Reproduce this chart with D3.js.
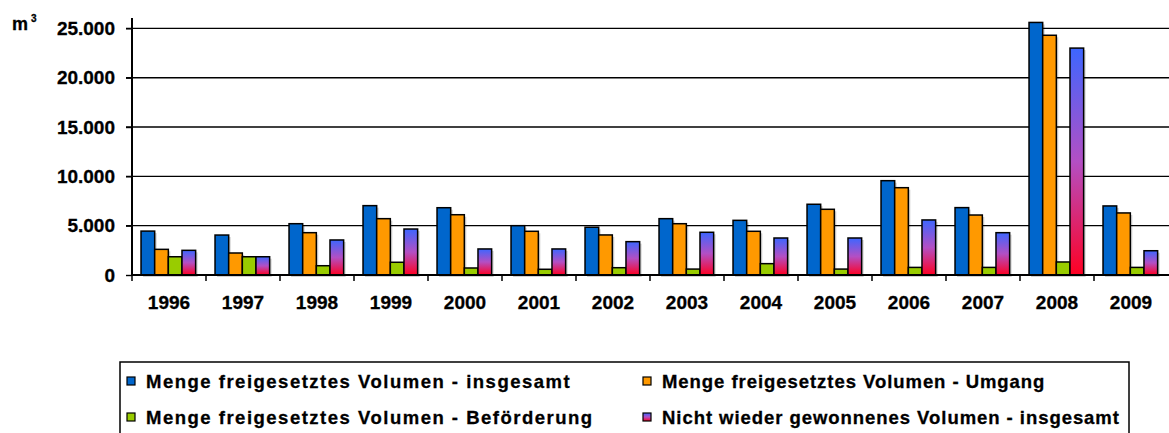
<!DOCTYPE html>
<html><head><meta charset="utf-8">
<script src="https://cdn.jsdelivr.net/npm/d3@7"></script>
<style>body{margin:0;background:#fff}svg{display:block;font-family:"Liberation Sans",Arial,sans-serif;font-weight:bold}text{stroke:#000;stroke-width:0.3px}</style>
</head><body><svg id="c" width="1169" height="433"></svg>
<script>
const years = ["1996","1997","1998","1999","2000","2001","2002","2003","2004","2005","2006","2007","2008","2009"];
const seriesNames = ["Menge freigesetztes Volumen - insgesamt","Menge freigesetztes Volumen - Umgang","Menge freigesetztes Volumen - Beförderung","Nicht wieder gewonnenes Volumen - insgesamt"];
const insgesamt = [4450,4050,5200,7030,6820,5000,4840,5710,5540,7170,9560,6830,25600,7000];
const umgang = [2600,2230,4290,5710,6110,4430,4060,5200,4430,6660,8850,6080,24300,6290];
const befoerderung = [1850,1850,940,1290,710,580,740,600,1150,600,770,770,1320,770];
const nichtWieder = [2500,1850,3550,4660,2640,2640,3380,4330,3750,3750,5580,4290,23000,2460];
const yTicks = [0,5000,10000,15000,20000,25000];
const colors = ["#0066cc","#ff9900","#99cc00","url(#grad)"];
const series = [insgesamt, umgang, befoerderung, nichtWieder];

const svg = d3.select("#c");
const defs = svg.append("defs");
const g = defs.append("linearGradient").attr("id","grad").attr("x1",0).attr("y1",0).attr("x2",0).attr("y2",1);
g.append("stop").attr("offset","0%").attr("stop-color","#3d66ff");
g.append("stop").attr("offset","50%").attr("stop-color","#b34fc4");
g.append("stop").attr("offset","100%").attr("stop-color","#ff0022");

const x0 = d3.scaleBand().domain(years).range([132,1168]).padding(0);
const bw = x0.bandwidth();
const x1 = d3.scaleBand().domain(d3.range(4)).range([bw*0.122, bw*0.86]).padding(0);
const y = d3.scaleLinear().domain([0,26050]).range([275,18]);

// gridlines
svg.append("g").selectAll("line").data(yTicks.filter(d=>d>0)).join("line")
  .attr("x1",126).attr("x2",1169).attr("y1",d=>y(d)).attr("y2",d=>y(d))
  .attr("stroke","#000").attr("stroke-width",1.4);

// y axis
const yAxis = d3.axisLeft(y).tickValues(yTicks).tickSize(6).tickFormat(d=>d3.format(",")(d).replace(/,/g,"."));
const ya = svg.append("g").attr("transform","translate(132,0)").call(yAxis);
ya.select(".domain").remove();
ya.selectAll(".tick line").attr("stroke","#000").attr("stroke-width",1.4);
ya.selectAll(".tick text").attr("x",-17).attr("font-size",19).attr("font-weight","bold").attr("font-family","Liberation Sans, Arial, sans-serif").attr("fill","#000");
svg.append("line").attr("x1",132).attr("x2",132).attr("y1",18).attr("y2",276).attr("stroke","#000").attr("stroke-width",2);

// bars
const groups = svg.append("g").selectAll("g").data(years).join("g").attr("transform",d=>`translate(${x0(d)},0)`);
groups.each(function(yr,i){
  const gg = d3.select(this);
  series.forEach((s,k)=>{
    gg.append("rect").attr("x",x1(k)+2).attr("y",y(s[i])+2).attr("width",x1.bandwidth()).attr("height",275-y(s[i]))
      .attr("fill","#000").attr("opacity",0.18);
  });
  series.forEach((s,k)=>{
    gg.append("rect").attr("x",x1(k)).attr("y",y(s[i])).attr("width",x1.bandwidth()).attr("height",275-y(s[i]))
      .attr("fill",colors[k]).attr("stroke","#000").attr("stroke-width",1.5);
  });
});

// x axis
const xAxis = d3.axisBottom(x0).tickSize(0);
const xa = svg.append("g").attr("transform","translate(0,275)").call(xAxis);
xa.select(".domain").remove();
xa.selectAll(".tick text").attr("y",34).attr("dy",0).attr("font-size",19).attr("font-weight","bold").attr("font-family","Liberation Sans, Arial, sans-serif").attr("fill","#000");
svg.append("line").attr("x1",131).attr("x2",1169).attr("y1",275).attr("y2",275).attr("stroke","#000").attr("stroke-width",2);
svg.append("g").selectAll("line").data(years).join("line")
  .attr("x1",d=>x0(d)).attr("x2",d=>x0(d)).attr("y1",275).attr("y2",281).attr("stroke","#000").attr("stroke-width",1.5);

// unit
const u = svg.append("text").attr("x",12).attr("y",30).attr("font-size",18).attr("fill","#000");
u.append("tspan").text("m");
u.append("tspan").attr("dx",3).attr("dy",-8).attr("font-size",10).text("3");

// legend
svg.append("rect").attr("x",120).attr("y",362).attr("width",1009).attr("height",100).attr("fill","none").attr("stroke","#000").attr("stroke-width",1.5);
const legPos = [[127,377],[643,377],[127,413],[643,413]];
seriesNames.forEach((n,k)=>{
  const [lx,ly] = legPos[k];
  svg.append("rect").attr("x",lx).attr("y",ly).attr("width",8).attr("height",8).attr("fill",colors[k]).attr("stroke","#000").attr("stroke-width",1.2);
  svg.append("text").attr("x",lx+19).attr("y",ly+10.5).attr("font-size",18.5).attr("letter-spacing", k%2===0 ? "1.5px" : "0.95px").attr("fill","#000").text(n);
});
</script></body></html>
